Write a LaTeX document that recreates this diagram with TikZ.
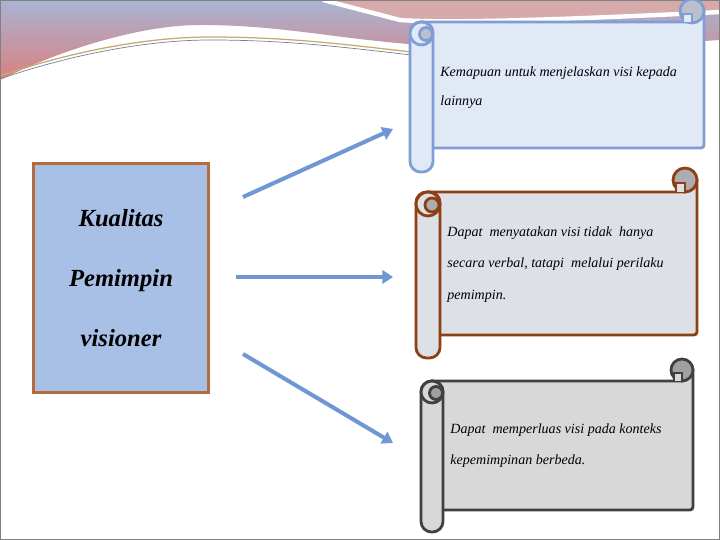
\documentclass[tikz,border=0pt]{standalone}
\usepackage{fontspec}
\setmainfont{Liberation Serif}
\usepackage{tikz}
\usetikzlibrary{arrows.meta, positioning}

\definecolor{bandtop}{RGB}{168,180,212}
\definecolor{bandbottom}{RGB}{218,128,128}
\definecolor{bandpink}{RGB}{214,170,170}
\definecolor{goldline}{RGB}{196,170,110}
\definecolor{boxfill}{RGB}{169,192,230}
\definecolor{boxedge}{RGB}{178,108,62}
\definecolor{arrowblue}{RGB}{112,150,212}
\definecolor{blueedge}{RGB}{127,158,214}
\definecolor{bluefill}{RGB}{225,233,246}
\definecolor{bluecurl}{RGB}{186,192,204}
\definecolor{brownedge}{RGB}{140,64,20}
\definecolor{brownfill}{RGB}{222,224,231}
\definecolor{browncurl}{RGB}{172,172,178}
\definecolor{grayedge}{RGB}{64,64,64}
\definecolor{grayfill}{RGB}{216,216,216}
\definecolor{graycurl}{RGB}{160,160,160}

\begin{document}
\begin{tikzpicture}[
    x=0.02cm, y=-0.02cm,
    qualitybox/.style={
        rectangle, draw=boxedge, fill=boxfill, line width=1.7pt,
        minimum width=3.52cm, minimum height=4.6cm, align=center,
        font=\fontsize{14}{34}\selectfont\bfseries\itshape
    },
    scrolltext/.style={
        anchor=north west, inner sep=0pt, align=left,
        font=\fontsize{8}{18}\selectfont\itshape
    },
    scroll/.style={draw=#1edge, fill=#1fill, line width=1.6pt},
    curl/.style={draw=#1edge, fill=#1curl, line width=1.6pt},
    arrow/.style={-{Triangle[length=6pt, width=7.5pt]}, line width=2.3pt, draw=arrowblue}
]
\useasboundingbox (0,0) rectangle (720,540);

% Slide background
\fill[white] (0,0) rectangle (720,540);
\shade[top color=bandtop, bottom color=bandbottom] (0,0) -- (720,0) -- (720,40)
    .. controls (600,48) and (480,46) .. (420,45)
    .. controls (330,38) and (280,25) .. (200,25)
    .. controls (140,25) and (60,50) .. (0,80) -- cycle;
\fill[bandpink] (323,0) -- (720,0) -- (720,12) .. controls (600,18) and (450,24) .. (400,20) -- cycle;
\draw[white, line width=2.5pt] (323,0) -- (400,20) .. controls (450,24) and (600,18) .. (720,12);
\draw[goldline, line width=0.7pt] (0,76) .. controls (60,55) and (140,37) .. (210,37) .. controls (290,37) and (350,45) .. (420,53);
\draw[bandtop!70!black, line width=0.4pt] (0,79) .. controls (60,58) and (140,40) .. (210,40) .. controls (290,40) and (350,48) .. (420,56);
\draw[gray, line width=0.8pt] (0.7,0.7) rectangle (719.3,539.3);

% Left box
\node[qualitybox] (kualitas) at (121,278) {Kualitas\\Pemimpin\\visioner};

% Scroll 1
\filldraw[scroll=blue] (421,22) -- (692,22) -- (692,11) -- (704,11) -- (704,141) .. controls (704,148) .. (697,148) -- (421,148) -- cycle;
\filldraw[curl=blue] (692,11) circle[radius=12];
\filldraw[scroll=blue] (683,22) -- (683,14) -- (692,14) -- (692,22);
\filldraw[scroll=blue, rounded corners=6pt] (410,22) rectangle (433,172);
\filldraw[scroll=blue] (421.5,33.5) circle[radius=11.5];
\filldraw[curl=blue] (426,34) circle[radius=6.5];
\node[scrolltext, font=\fontsize{8}{17}\selectfont\itshape] (jelaskan) at (440,66)
    {Kemapuan untuk menjelaskan visi kepada\\lainnya};

% Scroll 2
\filldraw[scroll=brown] (428,192) -- (685,192) -- (685,180) -- (697,180) -- (697,328) .. controls (697,335) .. (690,335) -- (428,335) -- cycle;
\filldraw[curl=brown] (685,180) circle[radius=12];
\filldraw[scroll=brown] (676,192) -- (676,183) -- (685,183) -- (685,192);
\filldraw[scroll=brown, rounded corners=6pt] (416,192) rectangle (440,358);
\filldraw[scroll=brown] (428,204) circle[radius=12];
\filldraw[curl=brown] (432,205) circle[radius=7];
\node[scrolltext] (nyatakan) at (447,226)
    {Dapat\ \ menyatakan visi tidak\ \ hanya\\secara verbal, tatapi\ \ melalui perilaku\\pemimpin.};

% Scroll 3
\filldraw[scroll=gray] (432,381) -- (682,381) -- (682,370) -- (693,370) -- (693,503) .. controls (693,510) .. (686,510) -- (432,510) -- cycle;
\filldraw[curl=gray] (682,370) circle[radius=11];
\filldraw[scroll=gray] (674,381) -- (674,373) -- (682,373) -- (682,381);
\filldraw[scroll=gray, rounded corners=6pt] (421,381) rectangle (443,532);
\filldraw[scroll=gray] (432,392) circle[radius=11];
\filldraw[curl=gray] (436,393) circle[radius=6.5];
\node[scrolltext] (perluas) at (450,423)
    {Dapat\ \ memperluas visi pada konteks\\kepemimpinan berbeda.};

% Arrows
\coordinate (from1) at (243,197);
\coordinate (to1) at (393,129);
\coordinate (from2) at (236,277);
\coordinate (to2) at (393,277);
\coordinate (from3) at (243,354);
\coordinate (to3) at (393,443);
\draw[arrow] (from1) -- (to1);
\draw[arrow] (from2) -- (to2);
\draw[arrow] (from3) -- (to3);

\end{tikzpicture}
\end{document}
